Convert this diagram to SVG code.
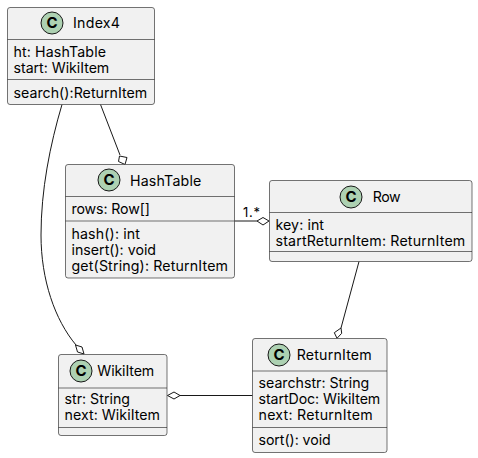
<svg xmlns="http://www.w3.org/2000/svg" width="478" height="458" viewBox="0 0 478 458">
<style>
text{font-family:"Inter","Liberation Sans",sans-serif;font-size:14.2px;fill:#000}
.box{fill:#f1f1f1;stroke:#181818;stroke-width:.6}
.sep{stroke:#181818;stroke-width:.6;fill:none}
.spot{fill:#add1b2;stroke:#181818;stroke-width:1}
.c{font-size:15px;font-weight:700;text-anchor:middle}
.ln{fill:none;stroke:#181818;stroke-width:1}
.dia{fill:#fff;stroke:#181818;stroke-width:1}
</style>
<g id="connectors">
<path class="ln" d="M62,104.500C50,145 41,190 41,235C41,280 55,320 76,345"/>
<path class="dia" d="M84,354L77.500,352L75.500,345L82,347Z"/>
<path class="ln" d="M100.500,104.500L120,155"/>
<path class="dia" d="M125,164.500L118.500,161.500L119.500,156L127,157.500Z"/>
<path class="ln" d="M234.500,221L257,221"/>
<path class="dia" d="M269,221L263,225L257,221L263,217.500Z"/>
<text x="243" y="217" style="font-size:13px" textLength="17">1.*</text>
<path class="ln" d="M359,261.500L341,328"/>
<path class="dia" d="M337,338.300L334.300,332.700L341,328L341.700,333.300Z"/>
<path class="ln" d="M180,395.500L252.500,395.500"/>
<path class="dia" d="M167.500,395.500L174,392L180,395.500L174,399Z"/>
</g>
<g id="Index4">
<rect class="box" x="7.500" y="7.500" width="147" height="97" rx="2.500"/>
<path class="sep" d="M7.500,39.500H154.500M7.500,79.500H154.500"/>
<circle class="spot" cx="52" cy="23" r="11"/>
<text class="c" x="52" y="28">C</text>
<text x="73" y="28" textLength="47">Index4</text>
<text x="13.500" y="57" textLength="92.500">ht: HashTable</text>
<text x="13.500" y="73" textLength="95.800">start: WikiItem</text>
<text x="13.500" y="98" textLength="133.800">search():ReturnItem</text>
</g>
<g id="HashTable">
<rect class="box" x="65.500" y="164.500" width="169" height="113.500" rx="2.500"/>
<path class="sep" d="M65.500,196.500H234.500M65.500,221H234.500"/>
<circle class="spot" cx="109" cy="180" r="11"/>
<text class="c" x="109" y="185">C</text>
<text x="130" y="186" textLength="71.300">HashTable</text>
<text x="71.500" y="214" textLength="78.500">rows: Row[]</text>
<text x="71.500" y="239" textLength="68.500">hash(): int</text>
<text x="71.500" y="255" textLength="84.500">insert(): void</text>
<text x="71.500" y="271" textLength="156.500">get(String): ReturnItem</text>
</g>
<g id="Row">
<rect class="box" x="269.500" y="180.500" width="202.500" height="81" rx="2.500"/>
<path class="sep" d="M269.500,212.500H472M269.500,251.500H472"/>
<circle class="spot" cx="351" cy="197" r="11"/>
<text class="c" x="351" y="202">C</text>
<text x="372.700" y="202" textLength="28">Row</text>
<text x="275.500" y="230" textLength="48.500">key: int</text>
<text x="275.500" y="246" textLength="189.800">startReturnItem: ReturnItem</text>
</g>
<g id="WikiItem">
<rect class="box" x="58.500" y="354.500" width="108.500" height="81" rx="2.500"/>
<path class="sep" d="M58.500,388H167M58.500,427.500H167"/>
<circle class="spot" cx="81" cy="371" r="11"/>
<text class="c" x="81" y="376">C</text>
<text x="97.300" y="376" textLength="57">WikiItem</text>
<text x="64.500" y="404" textLength="65.500">str: String</text>
<text x="64.500" y="420" textLength="95.500">next: WikiItem</text>
</g>
<g id="ReturnItem">
<rect class="box" x="252.500" y="338.500" width="134.500" height="114" rx="2.500"/>
<path class="sep" d="M252.500,371H387M252.500,427.500H387"/>
<circle class="spot" cx="279" cy="355" r="11"/>
<text class="c" x="279" y="360">C</text>
<text x="296.700" y="360" textLength="75">ReturnItem</text>
<text x="258.500" y="388" textLength="110.800">searchstr: String</text>
<text x="258.500" y="404" textLength="121.800">startDoc: WikiItem</text>
<text x="258.500" y="420" textLength="114.200">next: ReturnItem</text>
<text x="258.500" y="445" textLength="72.200">sort(): void</text>
</g>
</svg>
